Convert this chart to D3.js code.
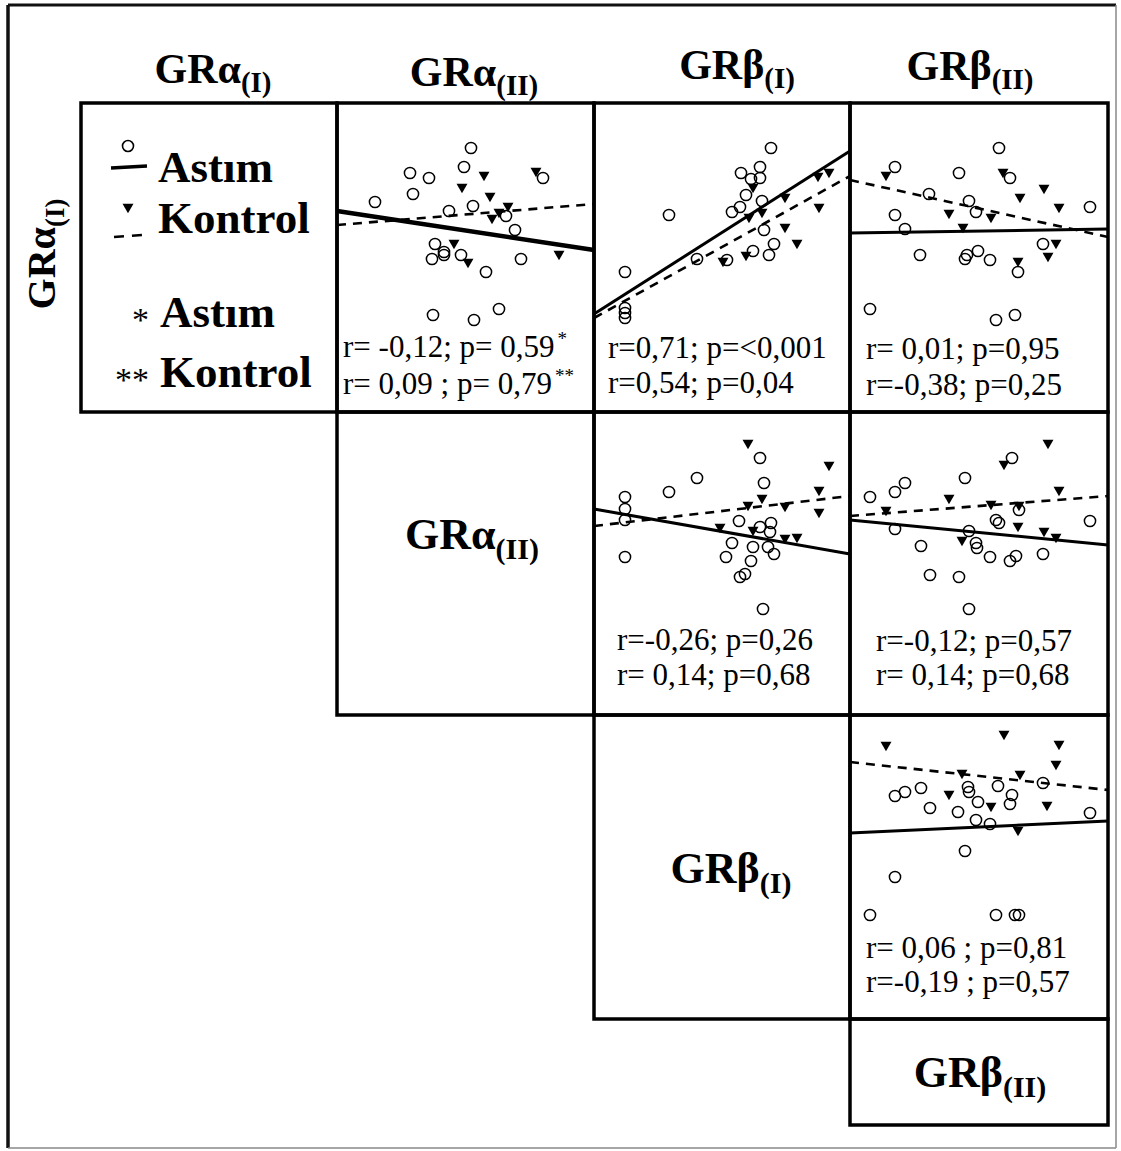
<!DOCTYPE html>
<html>
<head>
<meta charset="utf-8">
<script src="https://cdn.jsdelivr.net/npm/d3@7"></script>
<style>
  body { margin: 0; background: #fff; }
  text { font-family: "Liberation Serif", "Times New Roman", serif; fill: #000; }
</style>
</head>
<body>
<svg id="chart" width="1121" height="1151"></svg>
<script>
// variable names of the correlation matrix
const varNames = ["GRα", "GRα", "GRβ", "GRβ"];
const varSubs = ["(I)", "(II)", "(I)", "(II)"];

const astimA = [[134,264],[127,245],[73,239],[92,234],[206,234],[76,218],[38,210],[112,201],[136,206],[169,196],
  [178,182],[98,168],[107,160],[107,157],[95,153],[124,157],[184,153],[149,140],[96,97],[137,92],[162,103]];
const kontrolA = [[125,225],[147,237],[153,216],[199,241],[171,206],[162,200],[155,194],[117,169],[131,150],[222,158]];

const astimB = [[177,264],[147,239],[166,245],[157,233],[166,234],[152,217],[146,205],[138,200],[168,211],[75,197],
  [170,182],[180,168],[159,161],[175,157],[103,153],[133,152],[31,140],[31,104],[31,99],[31,94]];
const kontrolB = [[159,225],[191,215],[224,236],[235,240],[168,200],[155,195],[225,205],[191,185],[203,169],[152,157],[129,151]];

const astimC = [[149,264],[45,245],[109,239],[160,234],[79,218],[119,211],[126,200],[45,197],[55,183],[240,205],
  [193,168],[70,157],[115,153],[117,157],[128,161],[140,152],[168,140],[20,103],[146,92],[165,97]];
const kontrolC = [[36,237],[153,240],[170,215],[194,224],[209,205],[99,199],[141,195],[113,185],[206,169],[198,156],[168,151]];

const astimD = [[166,257],[170,232],[103,237],[75,223],[31,218],[31,206],[31,195],[31,158],[145,194],[177,192],
  [166,188],[176,183],[138,172],[159,168],[174,168],[132,158],[180,161],[157,154],[151,141],[146,138],[169,106]];
const kontrolD = [[154,272],[235,250],[225,225],[225,203],[168,217],[154,210],[191,209],[126,188],[159,185],[191,177],[203,178]];

const astimE = [[162,257],[115,237],[55,232],[45,223],[20,218],[169,205],[240,194],[146,195],[149,192],[45,186],
  [119,184],[126,172],[127,167],[71,169],[140,158],[166,159],[160,154],[193,161],[80,140],[109,138],[119,106]];
const kontrolE = [[198,272],[154,251],[209,225],[99,217],[141,211],[169,210],[36,205],[168,189],[194,184],[206,178],[112,175]];

const astimF = [[118,232],[148,233],[193,236],[71,231],[55,227],[45,223],[119,227],[162,224],[128,217],[160,215],
  [80,211],[108,207],[126,199],[140,195],[240,206],[115,168],[45,142],[20,104],[146,104],[165,104],[169,104]];
const kontrolF = [[154,285],[36,274],[209,275],[206,255],[112,246],[170,245],[99,225],[141,213],[197,214],[168,189]];

// regression lines: y at the left edge and at the right edge [astim, kontrol]
const fitA = [[201,162],[187,208]];
const fitB = [[98,261],[94,236]];
const fitC = [[179,183],[232,175]];
const fitD = [[206,161],[189,219]];
const fitE = [[195,170],[199,219]];
const fitF = [[186,198],[257,229]];

const statsA = ["r= -0,12; p= 0,59", "r= 0,09 ; p= 0,79"];
const statsB = ["r=0,71; p=<0,001", "r=0,54; p=0,04"];
const statsC = ["r= 0,01; p=0,95", "r=-0,38; p=0,25"];
const statsD = ["r=-0,26; p=0,26", "r= 0,14; p=0,68"];
const statsE = ["r=-0,12; p=0,57", "r= 0,14; p=0,68"];
const statsF = ["r= 0,06 ; p=0,81", "r=-0,19 ; p=0,57"];
const statsMarks = ["*", "**"];

const legendNames = ["Astım", "Kontrol"];

// grid
const colX = [81, 337, 594, 850, 1108];
const rowY = [103, 412, 715, 1019, 1125];

const panels = [
  {row: 0, col: 1, astim: astimA, kontrol: kontrolA, fit: fitA, stats: statsA, tx: 6, ty: [254, 291], marks: true, solidW: 4.5},
  {row: 0, col: 2, astim: astimB, kontrol: kontrolB, fit: fitB, stats: statsB, tx: 14, ty: [255, 290]},
  {row: 0, col: 3, astim: astimC, kontrol: kontrolC, fit: fitC, stats: statsC, tx: 16, ty: [256, 292]},
  {row: 1, col: 2, astim: astimD, kontrol: kontrolD, fit: fitD, stats: statsD, tx: 23, ty: [238, 273]},
  {row: 1, col: 3, astim: astimE, kontrol: kontrolE, fit: fitE, stats: statsE, tx: 26, ty: [239, 273]},
  {row: 2, col: 3, astim: astimF, kontrol: kontrolF, fit: fitF, stats: statsF, tx: 16, ty: [243, 277]}
];

const svg = d3.select("#chart");

// outer frame
svg.append("line").attr("x1", 8).attr("y1", 5).attr("x2", 1116).attr("y2", 5)
  .attr("stroke", "#111").attr("stroke-width", 3);
svg.append("line").attr("x1", 8).attr("y1", 5).attr("x2", 8).attr("y2", 1148)
  .attr("stroke", "#111").attr("stroke-width", 3.5);
svg.append("line").attr("x1", 1116).attr("y1", 5).attr("x2", 1116).attr("y2", 1148)
  .attr("stroke", "#888").attr("stroke-width", 1.5);
svg.append("line").attr("x1", 8).attr("y1", 1148).attr("x2", 1116).attr("y2", 1148)
  .attr("stroke", "#888").attr("stroke-width", 1.5);

function label(g, x, y, i, size, subSize, rotate) {
  const t = g.append("text")
    .attr("font-weight", "bold")
    .attr("font-size", size)
    .attr("text-anchor", "middle");
  if (rotate) t.attr("transform", `translate(${x},${y}) rotate(-90)`);
  else t.attr("x", x).attr("y", y);
  t.append("tspan").text(varNames[i]);
  t.append("tspan").attr("font-size", subSize).attr("dy", size * 0.22).text(varSubs[i]);
  return t;
}

// column headers and row label
const headerX = [213, 474, 737, 970];
const headerY = [83, 86, 79, 80];
varNames.forEach((d, i) => label(svg, headerX[i], headerY[i], i, 42, 29));
label(svg, 55, 254, 0, 40, 27, true);

// cell frames
const cellList = [[0, 0]].concat(panels.map(p => [p.row, p.col]), [[1, 1], [2, 2], [3, 3]]);
svg.append("g").selectAll("rect").data(cellList).join("rect")
  .attr("x", d => colX[d[1]])
  .attr("y", d => rowY[d[0]])
  .attr("width", d => colX[d[1] + 1] - colX[d[1]])
  .attr("height", d => rowY[d[0] + 1] - rowY[d[0]])
  .attr("fill", "none")
  .attr("stroke", "#000")
  .attr("stroke-width", 3.5);

// diagonal labels
label(svg, 472, 549, 1, 44, 30);
label(svg, 731, 883, 2, 44, 30);
label(svg, 980, 1087, 3, 44, 30);

const triangle = d3.symbol().type(d3.symbolTriangle).size(52);

// legend
const lg = svg.append("g");
lg.append("circle").attr("cx", 128).attr("cy", 146).attr("r", 5.5)
  .attr("fill", "none").attr("stroke", "#000").attr("stroke-width", 1.6);
lg.append("line").attr("x1", 111).attr("y1", 168).attr("x2", 147).attr("y2", 166)
  .attr("stroke", "#000").attr("stroke-width", 3.5);
lg.append("path").attr("d", triangle).attr("transform", "translate(128,207) rotate(180)");
lg.append("line").attr("x1", 114).attr("y1", 237).attr("x2", 142).attr("y2", 235)
  .attr("stroke", "#000").attr("stroke-width", 2.5).attr("stroke-dasharray", "10,8");
const legendY = [182, 233, 327, 387];
lg.selectAll("text.lname").data([0, 1, 0, 1]).join("text")
  .attr("class", "lname")
  .attr("x", (d, i) => i < 2 ? 158 : 160)
  .attr("y", (d, i) => legendY[i])
  .attr("font-size", 45)
  .attr("font-weight", "bold")
  .text(d => legendNames[d]);
lg.selectAll("text.mark").data(statsMarks).join("text")
  .attr("class", "mark")
  .attr("x", 149)
  .attr("y", (d, i) => legendY[i + 2] + 4)
  .attr("text-anchor", "end")
  .attr("font-size", 34)
  .text(d => d);

// scatter panels
panels.forEach(p => {
  const x0 = colX[p.col], x1 = colX[p.col + 1];
  const y0 = rowY[p.row], y1 = rowY[p.row + 1];
  const x = d3.scaleLinear().domain([0, x1 - x0]).range([x0, x1]);
  const y = d3.scaleLinear().domain([0, y1 - y0]).range([y1, y0]);
  const g = svg.append("g");
  const line = d3.line().x(d => x(d[0])).y(d => y(d[1]));
  const w = x1 - x0;

  g.append("path")
    .attr("d", line([[0, p.fit[1][0]], [w, p.fit[1][1]]]))
    .attr("stroke", "#000").attr("stroke-width", 2.6).attr("fill", "none")
    .attr("stroke-dasharray", "9,7");
  g.append("path")
    .attr("d", line([[0, p.fit[0][0]], [w, p.fit[0][1]]]))
    .attr("stroke", "#000").attr("stroke-width", p.solidW || 3).attr("fill", "none");

  g.selectAll("circle").data(p.astim).join("circle")
    .attr("cx", d => x(d[0]))
    .attr("cy", d => y(d[1]))
    .attr("r", 5.6)
    .attr("fill", "none")
    .attr("stroke", "#000")
    .attr("stroke-width", 1.5);

  g.selectAll("path.tri").data(p.kontrol).join("path")
    .attr("class", "tri")
    .attr("d", triangle)
    .attr("transform", d => `translate(${x(d[0])},${y(d[1])}) rotate(180)`);

  p.stats.forEach((s, i) => {
    const t = g.append("text")
      .attr("x", x0 + p.tx)
      .attr("y", y0 + p.ty[i])
      .attr("font-size", 31)
      .text(s);
    if (p.marks) {
      t.append("tspan").attr("font-size", 19).attr("dx", 3).attr("dy", -12).text(statsMarks[i]);
    }
  });
});
</script>
</body>
</html>
